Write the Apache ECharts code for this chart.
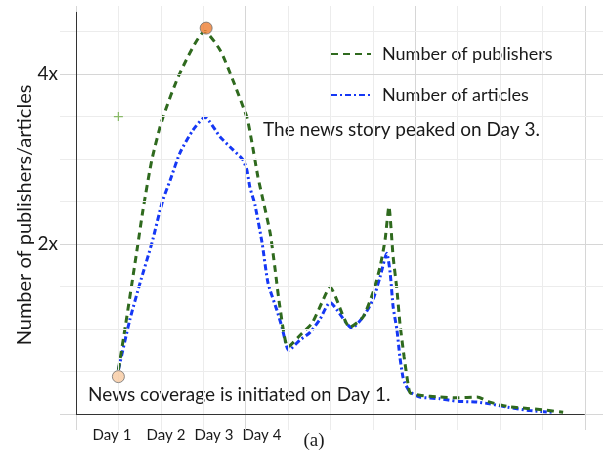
<!DOCTYPE html>
<html><head><meta charset="utf-8">
<script src="https://cdn.jsdelivr.net/npm/echarts@6/dist/echarts.min.js"></script>
<style>html,body{margin:0;padding:0;background:#fff}#c{width:611px;height:460px}</style>
</head><body><div id="c"></div>
<script>
// ---- data (x in days on the grid, y in multiples "x") ----
const pubX = [1.00,1.16,1.46,1.58,1.79,2.05,2.45,3.04,3.40,3.70,4.03,4.15,4.29,4.41,4.58,4.69,4.81,5.00,5.33,5.57,5.80,5.99,6.46,6.77,7.00,7.17,7.29,7.38,7.48,7.57,7.64,7.74,7.83,7.88,8.11,8.58,8.99,9.46,9.76,10.17,10.54,11.01,11.49];
const pubY = [0.52,1.02,2.00,2.40,2.99,3.49,4.01,4.50,4.28,3.93,3.49,3.19,2.79,2.52,2.13,1.73,1.26,0.79,0.95,1.07,1.31,1.49,1.02,1.14,1.42,1.73,2.05,2.44,1.85,1.46,1.07,0.67,0.36,0.25,0.22,0.20,0.19,0.20,0.14,0.09,0.07,0.05,0.02];
const artX = [1.00,1.27,1.51,1.79,2.05,2.22,2.45,2.76,3.04,3.40,3.70,3.94,4.03,4.10,4.22,4.39,4.53,4.74,4.86,5.02,5.28,5.52,5.75,5.99,6.51,6.77,7.00,7.17,7.33,7.41,7.48,7.57,7.64,7.71,7.76,7.88,8.11,8.58,8.99,9.46,9.76,10.17,10.71,11.25];
const artY = [0.52,1.11,1.54,2.01,2.52,2.75,3.07,3.34,3.49,3.26,3.11,2.99,2.87,2.67,2.46,2.01,1.54,1.22,1.02,0.75,0.87,0.96,1.11,1.31,1.01,1.14,1.34,1.61,1.89,1.66,1.26,0.99,0.67,0.44,0.36,0.26,0.20,0.18,0.15,0.14,0.12,0.08,0.04,0.02];
const startMarker = [[1.0, 0.44]];
const peakMarker = [[3.07, 4.54]];
const plusMarker = [[1.0, 3.5]];
const xGridTicks = [0,1,2,3,4,5,6,7,8,9,10,11,12];
const yGridTicks = [0,0.5,1,1.5,2,2.5,3,3.5,4,4.5];
const yTickValues = [2,4];
const yTickLabels = ['2x','4x'];
const dayLabels = ['Day 1','Day 2','Day 3','Day 4'];
const seriesNames = ['Number of publishers','Number of articles'];
const yTitle = 'Number of publishers/articles';
const noteTop = 'The news story peaked on Day 3.';
const noteBottom = 'News coverage is initiated on Day 1.';
const caption = '(a)';

const FONT = 'Lato, "Noto Sans", sans-serif';
const zip = (a, b) => a.map((v, i) => [v, b[i]]);

const gridLines = [];
xGridTicks.forEach(v => gridLines.push({xAxis: v, label: {show: false},
  lineStyle: {color: v % 4 === 0 ? '#d6d6d6' : '#ececec', width: 1, type: 'solid'}}));
yGridTicks.forEach(v => {
  const idx = yTickValues.indexOf(v);
  gridLines.push({yAxis: v,
    lineStyle: {color: v % 2 === 0 ? '#d6d6d6' : '#ececec', width: 1, type: 'solid'},
    label: idx >= 0 ? {show: true, position: 'start', formatter: yTickLabels[idx], distance: 2,
      align: 'right', verticalAlign: 'middle',
      fontFamily: FONT, fontSize: 19, color: '#1a1a1a'} : {show: false}});
});

const dayCenters = [112, 166, 214, 262];
const graphics = [
  {type: 'text', left: 263, top: 120, style: {text: noteTop, font: '19px ' + FONT, fill: '#1a1a1a'}},
  {type: 'text', left: 88, top: 385, style: {text: noteBottom, font: '19px ' + FONT, fill: '#1a1a1a'}},
  {type: 'text', x: 25, y: 215, rotation: Math.PI / 2,
    style: {text: yTitle, font: '20px ' + FONT, fill: '#1a1a1a', align: 'center', verticalAlign: 'middle'}},
  {type: 'text', x: 314, y: 441, style: {text: caption, font: '19px "Liberation Serif", serif', fill: '#1a1a1a', align: 'center', verticalAlign: 'middle'}}
];
dayLabels.forEach((t, i) => graphics.push({type: 'text', x: dayCenters[i], y: 435,
  style: {text: t, font: '15px ' + FONT, fill: '#1a1a1a', align: 'center', verticalAlign: 'middle'}}));

const chart = echarts.init(document.getElementById('c'), null, {renderer: 'canvas'});
chart.setOption({
  animation: false,
  backgroundColor: '#ffffff',
  grid: {left: 60, right: 8, top: 6, bottom: 30},
  xAxis: {type: 'value', min: -0.377, max: 12.43, show: false},
  yAxis: {type: 'value', min: -0.188, max: 4.8, show: false},
  legend: {
    data: seriesNames, orient: 'vertical', left: 330, top: 45, padding: 0,
    itemWidth: 40, itemHeight: 14, itemGap: 23,
    itemStyle: {opacity: 0},
    textStyle: {fontFamily: FONT, fontSize: 18, lineHeight: 14, color: '#1a1a1a', padding: [0, 0, 0, 6]}
  },
  graphic: graphics,
  series: [
    {type: 'line', name: '_grid', data: [], z: 1, silent: true,
      markLine: {silent: true, symbol: ['none', 'none'], data: gridLines, animation: false}},
    {type: 'line', name: seriesNames[1], data: zip(artX, artY), symbol: 'none', showSymbol: false,
      smooth: 0.2, z: 3, lineStyle: {color: '#1538f5', width: 3, type: [6, 3, 2, 3]}, itemStyle: {color: '#1538f5'}},
    {type: 'line', name: seriesNames[0], data: zip(pubX, pubY), symbol: 'none', showSymbol: false,
      smooth: 0.2, z: 4, lineStyle: {color: '#2f6a1e', width: 3, type: [7, 5]}, itemStyle: {color: '#2f6a1e'}},
    {type: 'line', name: '_axes', data: [], z: 5, silent: true,
      markLine: {silent: true, symbol: ['none', 'triangle'], symbolSize: [0, 10], animation: false,
        label: {show: false}, lineStyle: {color: '#333', width: 1, type: 'solid'},
        data: [[{coord: [0, 0]}, {coord: [12, 0]}], [{coord: [0, 0]}, {coord: [0, 4.73]}]]}},
    {type: 'scatter', name: '_start', data: startMarker, symbolSize: 12, z: 6,
      itemStyle: {color: '#f8c9a0', borderColor: '#6f6f6f', borderWidth: 1}},
    {type: 'scatter', name: '_peak', data: peakMarker, symbolSize: 12, z: 6,
      itemStyle: {color: '#ed7d31', borderColor: '#6f6f6f', borderWidth: 1}},
    {type: 'scatter', name: '_plus', data: plusMarker, symbolSize: 9, z: 6,
      symbol: 'path://M4.3,0h1.4v4.3h4.3v1.4h-4.3v4.3h-1.4v-4.3h-4.3v-1.4h4.3z',
      itemStyle: {color: '#70ad47'}}
  ]
});
</script></body></html>
